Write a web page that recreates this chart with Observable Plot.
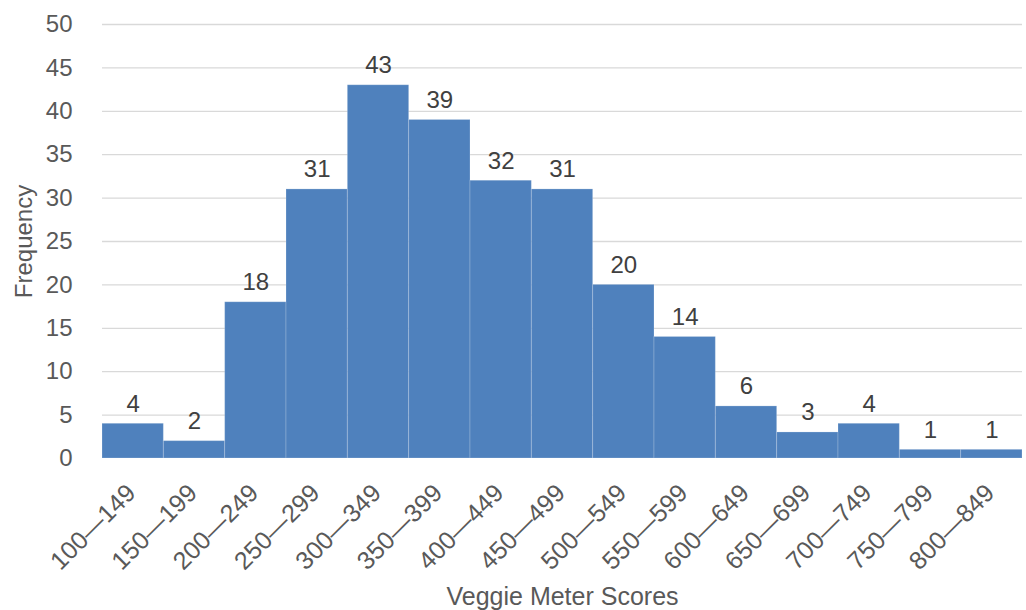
<!DOCTYPE html>
<html>
<head>
<meta charset="utf-8">
<script src="https://cdn.jsdelivr.net/npm/d3@7"></script>
<script src="https://cdn.jsdelivr.net/npm/@observablehq/plot@0.6"></script>
<style>
  html, body { margin: 0; padding: 0; background: #fff; }
  svg { display: block; }
</style>
</head>
<body>
<div id="chart"></div>
<script>
const bins = ["100\u2014149","150\u2014199","200\u2014249","250\u2014299","300\u2014349","350\u2014399","400\u2014449","450\u2014499","500\u2014549","550\u2014599","600\u2014649","650\u2014699","700\u2014749","750\u2014799","800\u2014849"];
const counts = [4, 2, 18, 31, 43, 39, 32, 31, 20, 14, 6, 3, 4, 1, 1];
const yTicks = [0, 5, 10, 15, 20, 25, 30, 35, 40, 45, 50];
const gridTicks = [5, 10, 15, 20, 25, 30, 35, 40, 45, 50];

const data = bins.map((b, i) => ({bin: b, count: counts[i]}));
const font = "'Liberation Sans', Arial, sans-serif";

const chart = Plot.plot({
  width: 1026,
  height: 610,
  marginLeft: 102,
  marginRight: 4,
  marginTop: 24,
  marginBottom: 152,
  style: {fontFamily: font, background: "#fff"},
  x: {type: "band", domain: bins, padding: 0, round: false},
  y: {domain: [0, 50]},
  marks: [
    Plot.ruleY(gridTicks, {stroke: "#d9d9d9", strokeWidth: 1.3}),
    Plot.barY(data, {x: "bin", y: "count", fill: "#4f81bd", stroke: "#ffffff", strokeOpacity: 0.2, strokeWidth: 1, inset: 0}),
    Plot.text(data, {x: "bin", y: "count", text: d => String(d.count), lineAnchor: "bottom", dy: -12, fontSize: 24, fill: "#404040"}),
    Plot.axisY({ticks: yTicks, tickSize: 0, tickPadding: 30, fontSize: 24, color: "#595959",
      label: "Frequency", labelAnchor: "center", labelArrow: "none", labelOffset: 88}),
    Plot.axisX({tickSize: 0, tickRotate: -45, textAnchor: "end", lineAnchor: "bottom", tickPadding: 36, dx: 4, fontSize: 25, color: "#595959",
      label: "Veggie Meter Scores", labelAnchor: "center", labelArrow: "none", labelOffset: 146})
  ]
});
document.getElementById("chart").appendChild(chart);
</script>
</body>
</html>
